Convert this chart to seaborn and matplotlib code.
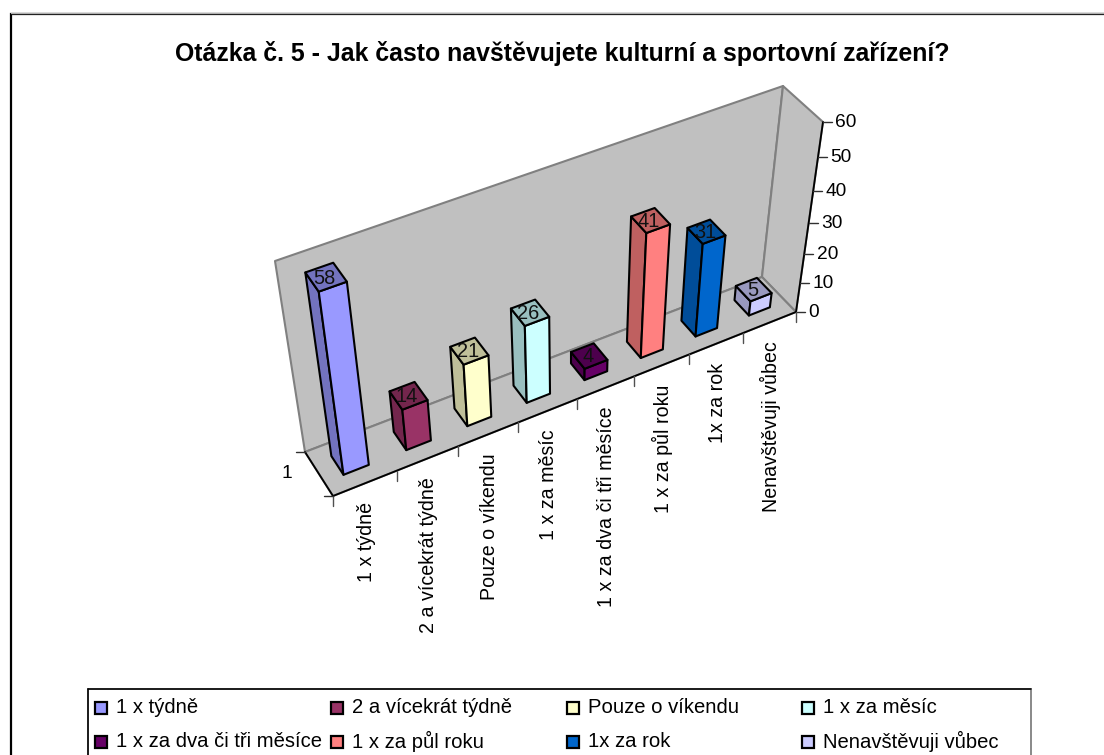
# Otázka č. 5 - Excel style 3D column chart, drawn through a small projection
import matplotlib
matplotlib.use('Agg')
import matplotlib.pyplot as plt
from matplotlib.patches import Polygon, Rectangle
import seaborn as sns

kategorie = ['1 x týdně', '2 a vícekrát týdně', 'Pouze o víkendu', '1 x za měsíc',
             '1 x za dva či tři měsíce', '1 x za půl roku', '1x za rok', 'Nenavštěvuji vůbec']
hodnoty = [58, 14, 21, 26, 4, 41, 31, 5]
barvy = ['#9999FF', '#993366', '#FFFFCC', '#CCFFFF', '#660066', '#FF8080', '#0066CC', '#CCCCFF']
tiky_y = [0, 10, 20, 30, 40, 50, 60]
nadpis = 'Otázka č. 5 - Jak často navštěvujete kulturní a sportovní zařízení?'

sns.set_theme(style='white')
plt.rcParams['font.family'] = ['Liberation Sans', 'DejaVu Sans']

# rohy krabice v pixelech obrazku
F0, F1 = (333, 496), (796, 312)
B0, B1 = (305, 452), (762, 277)
TF0, TF1 = (306, 306), (823, 122)
TB0, TB1 = (275, 261), (783, 86)


def mix(p, q, t):
    return (p[0] + (q[0] - p[0]) * t, p[1] + (q[1] - p[1]) * t)


def proj(c, v, d):
    # c = pozice kategorie 0-8, v = hodnota 0-60, d = hloubka 0-1 (perspektiva jen priblizne)
    t = c / len(kategorie)
    a = t * 1.114 / (1 + 0.114 * t)
    u = v / 60
    h = u / (1 + 0.128 * (1 - u))
    dole = mix(mix(F0, F1, a), mix(B0, B1, a), d)
    nahore = mix(mix(TF0, TF1, a), mix(TB0, TB1, a), d)
    return mix(dole, nahore, h)


def ztmav(barva, k=0.75):
    r, g, b = matplotlib.colors.to_rgb(barva)
    return (r * k, g * k, b * k)


fig = plt.figure(figsize=(11.04, 7.55), dpi=100)
ax = fig.add_axes([0, 0, 1, 1])
ax.set_xlim(0, 1104)
ax.set_ylim(755, 0)
ax.axis('off')

# ramecek grafu - vpravo a dole jde mimo obrazek
ax.plot([10.5, 1104], [12.5, 12.5], color='#B0B0B0', lw=1)
ax.add_patch(Rectangle((10.5, 14), 1100, 760, fc='white', ec='black', lw=1.6))
ax.text(562, 53, nadpis, fontsize=17.9, fontweight='bold', ha='center', va='center', color='black')

# steny a podlaha
seda, hrana = '#C0C0C0', '#808080'
for poly in ([B0, B1, TB1, TB0], [B1, F1, TF1, TB1], [F0, F1, B1, B0]):
    ax.add_patch(Polygon(poly, closed=True, fc=seda, ec=hrana, lw=1.5, joinstyle='round'))

# osy
ax.plot(*zip(F0, F1), color='black', lw=1.3)
ax.plot(*zip(B0, F0), color='black', lw=1.3)
ax.plot(*zip(F1, TF1), color='black', lw=1.3)

for v in tiky_y:
    x, y = proj(len(kategorie), v, 0)
    ax.plot([x, x + 9], [y, y], color='#303030', lw=1)
    ax.text(x + 12.5, y + 0.5, str(v), fontsize=13.8, ha='left', va='center', color='black')

for i in range(len(kategorie) + 1):
    x, y = proj(i, 0, 0)
    ax.plot([x, x], [y, y + 10], color='#505050', lw=1)

for p in (F0, B0):
    ax.plot([p[0] - 9, p[0]], [p[1], p[1]], color='#303030', lw=1)
ax.text(287, 473, '1', fontsize=13.8, ha='center', va='center', color='black')

# popisky kategorii
for i, nazev in enumerate(kategorie):
    x, y = proj(i + 0.5, 0, 0)
    ax.text(x + 1, y + 19, nazev, rotation=90, fontsize=14.1, ha='center', va='top', color='black')

# sloupce zleva doprava
c0, c1, d0, d1 = 0.3, 0.7, 0.31, 0.74
for i, (hod, barva) in enumerate(zip(hodnoty, barvy)):
    tmava = ztmav(barva)
    bok = [proj(i + c0, 0, d0), proj(i + c0, 0, d1), proj(i + c0, hod, d1), proj(i + c0, hod, d0)]
    celo = [proj(i + c0, 0, d0), proj(i + c1, 0, d0), proj(i + c1, hod, d0), proj(i + c0, hod, d0)]
    vrch = [proj(i + c0, hod, d0), proj(i + c1, hod, d0), proj(i + c1, hod, d1), proj(i + c0, hod, d1)]
    for poly, fc in ((bok, tmava), (celo, barva), (vrch, tmava)):
        ax.add_patch(Polygon(poly, closed=True, fc=fc, ec='black', lw=1.5, joinstyle='round'))
    x, y = proj(i + 0.47, hod, 0.52)
    ax.text(x, y, str(hod), fontsize=14.4, ha='center', va='center', color='#111111')

# legenda
ax.add_patch(Rectangle((88, 689), 943, 100, fc='white', ec='#808080', lw=1.3))
ax.plot([88, 1031], [689, 689], color='black', lw=1.1)
ax.plot([88, 88], [689, 755], color='black', lw=1.1)
sl_x = [95, 331, 567, 802]
rad_y = [707.5, 741.5]
for i, (nazev, barva) in enumerate(zip(kategorie, barvy)):
    x, y = sl_x[i % 4], rad_y[i // 4]
    ax.add_patch(Rectangle((x, y - 5.5), 11.5, 11.5, fc=barva, ec='black', lw=1.6))
    ax.text(x + 21, y, nazev, fontsize=14.6, ha='left', va='center', color='black')

fig.savefig('out.png', dpi=100)
